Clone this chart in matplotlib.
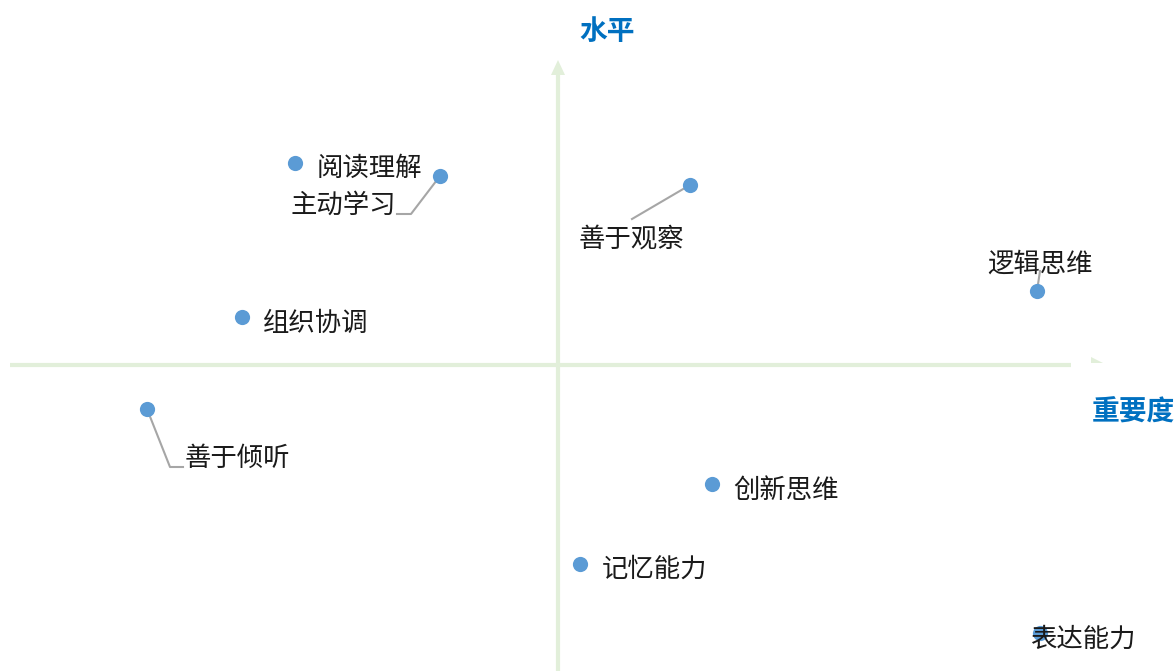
import matplotlib.pyplot as plt
from matplotlib.patches import Polygon

plt.rcParams['font.family'] = ['Noto Sans CJK SC', 'DejaVu Sans']

# data: importance (x) vs level (y), origin at the quadrant centre
skills = ['阅读理解', '主动学习', '善于观察', '逻辑思维', '组织协调',
          '善于倾听', '创新思维', '记忆能力', '表达能力']
importance = [-5.26, -2.36, 2.64, 9.58, -6.32, -8.22, 3.08, 0.44, 9.64]
level = [4.04, 3.78, 3.60, 1.48, 0.96, -0.88, -2.38, -3.98, -5.36]

x_title = '重要度'
y_title = '水平'

# layout (pixels, y down) for labels and leader lines
PX = 50.0
label_off = {
    '阅读理解': (22, 5, 'left'),
    '主动学习': (-97, 29, 'center'),
    '善于观察': (-59, 54, 'center'),
    '逻辑思维': (3, -27, 'center'),
    '组织协调': (21, 6, 'left'),
    '善于倾听': (38, 49, 'left'),
    '创新思维': (21, 6, 'left'),
    '记忆能力': (22, 5, 'left'),
    '表达能力': (-10, 6, 'left'),
}
leaders = {
    '主动学习': [(0, 0), (-29, 38), (-43, 38)],
    '善于观察': [(0, 0), (-58, 34)],
    '逻辑思维': [(0, 0), (3, -20)],
    '善于倾听': [(0, 0), (23, 58), (36, 58)],
}

W, H = 1176, 671
ox, oy = 558, 365

fig = plt.figure(figsize=(W / 100, H / 100), dpi=100)
ax = fig.add_axes([0, 0, 1, 1])
ax.set_xlim(-ox / PX, (W - ox) / PX)
ax.set_ylim(-(H - oy) / PX, oy / PX)
ax.axis('off')

def p2d(px, py):
    return (px - ox) / PX, (oy - py) / PX

axis_c = '#e2efda'
# horizontal axis
x0, y0 = p2d(10, 365)
x1, _ = p2d(1071, 365)
ax.plot([x0, x1], [y0, y0], color=axis_c, lw=3, solid_capstyle='butt', zorder=1)
ax.add_patch(Polygon([p2d(1091, 357), p2d(1103, 363), p2d(1091, 363)],
                     closed=True, color=axis_c, lw=0, zorder=1))
# vertical axis
vx, vy0 = p2d(558, 671)
_, vy1 = p2d(558, 74)
ax.plot([vx, vx], [vy0, vy1], color=axis_c, lw=3, solid_capstyle='butt', zorder=1)
ax.add_patch(Polygon([p2d(551, 75), p2d(558, 60), p2d(565, 75)],
                     closed=True, color=axis_c, lw=0, zorder=1))

title_c = '#0070c0'
ax.text(*p2d(607, 32), y_title, color=title_c, fontsize=20, fontweight='bold',
        ha='center', va='center')
ax.text(*p2d(1133, 413), x_title, color=title_c, fontsize=20, fontweight='bold',
        ha='center', va='center')

for name, xv, yv in zip(skills, importance, level):
    if name in leaders:
        pts = leaders[name]
        ax.plot([xv + dx / PX for dx, dy in pts], [yv - dy / PX for dx, dy in pts],
                color='#a6a6a6', lw=1.5, zorder=2)

ax.scatter(importance, level, s=120, color='#5b9bd5', zorder=3, linewidths=0)

for name, xv, yv in zip(skills, importance, level):
    dx, dy, ha = label_off[name]
    ax.text(xv + dx / PX, yv - dy / PX, name, fontsize=19, color='#1a1a1a',
            ha=ha, va='center', zorder=4)

fig.savefig('out.png', dpi=100)
